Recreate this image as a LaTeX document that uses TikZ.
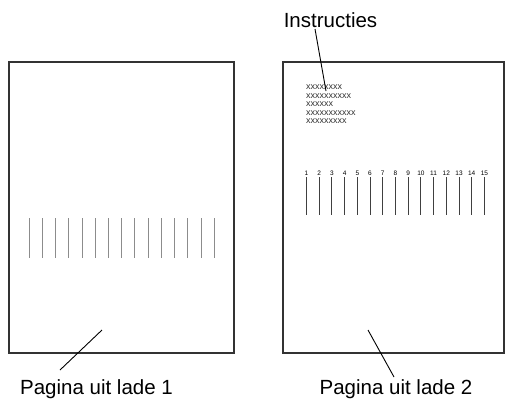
\documentclass[tikz,border=0pt]{standalone}
\usepackage{fontspec}
\setmainfont{Liberation Sans}
\begin{document}
\begin{tikzpicture}[x=1pt,y=-1pt,
  page/.style={draw=black!80,line width=1.4pt},
  lead/.style={draw=black,line width=0.9pt},
  lbl/.style={font=\fontsize{20.5}{24}\selectfont,inner sep=0pt,anchor=base},
  tick/.style={draw=black!45,line width=1pt},
  tickb/.style={draw=black!75,line width=1pt},
  num/.style={font=\fontsize{6.5}{7}\selectfont,inner sep=0pt,anchor=base},
  xs/.style={font=\fontsize{9}{8.5}\selectfont,inner sep=0pt,anchor=north west,align=left,text=black!80}]
\useasboundingbox (0,0) rectangle (508,402);
% pages
\draw[page] (9,62) rectangle (234,353);
\node (page1) at (121.5,207.5) {};
\draw[page] (283,62) rectangle (504,353);
\node (page2) at (393.5,207.5) {};
% left page lines
\foreach \i in {0,...,14} {
  \draw[tick] (29.3+13.21*\i,218) -- (29.3+13.21*\i,258);
}
% right page numbered lines
\foreach \i in {1,...,15} {
  \node[num] (n\i) at (306.5+12.71*\i-12.71,175) {\i};
  \draw[tickb] (306.5+12.71*\i-12.71,177) -- (306.5+12.71*\i-12.71,215);
}
% instructions text
\node[xs] (xs) at (306,85) {xxxxxxxx\\xxxxxxxxxx\\xxxxxx\\xxxxxxxxxxx\\xxxxxxxxx};
% labels
\node[lbl] (instr) at (330.5,27) {Instructies};
\node[lbl] (lab1) at (96.5,394) {Pagina uit lade 1};
\node[lbl] (lab2) at (396,394) {Pagina uit lade 2};
% leader lines
\coordinate (i0) at (315,29);
\coordinate (i1) at (326,91);
\draw[lead] (i0) -- (i1);
\coordinate (a0) at (102,330);
\coordinate (a1) at (60,370);
\draw[lead] (a0) -- (a1);
\coordinate (b0) at (368,330);
\coordinate (b1) at (394,377);
\draw[lead] (b0) -- (b1);
\end{tikzpicture}
\end{document}
